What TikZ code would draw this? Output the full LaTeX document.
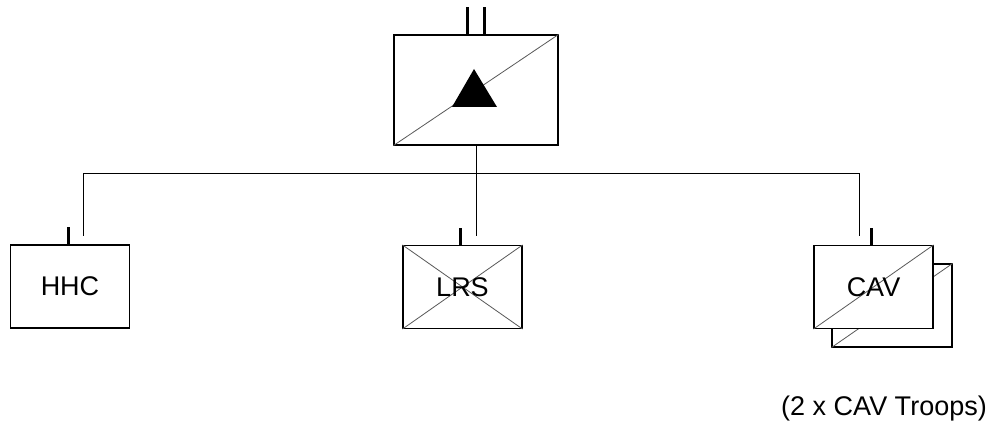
\documentclass[tikz,border=0pt]{standalone}
\usepackage{fontspec}
\setmainfont{Liberation Sans}
\begin{document}
\begin{tikzpicture}[x=1pt, y=1pt,
        unit/.style={draw, line width=1.1pt, fill=white, rectangle, minimum width=119pt, minimum height=83pt, inner sep=0pt, font=\fontsize{27}{32}\selectfont},
        slash/.style={gray!70!black, line width=.8pt},
        bar/.style={line width=3pt},
        link/.style={line width=1pt}]
                \useasboundingbox (0, 0) rectangle (993, 426);

                % squadron hq
                \node[unit, minimum width=164pt, minimum height=110pt] (sqn) at (476, 336) {};
                \draw[slash] (sqn.south west) -- (sqn.north east);
                \fill (sqn.center) ++(-2, 21) -- ++(-22, -38) -- ++(45, 0) -- cycle;
                \draw[bar] ([xshift=-9pt]sqn.north) -- ++(0, 27);
                \draw[bar] ([xshift=8pt]sqn.north) -- ++(0, 27);

                % troops
                \node[unit] (hhc) at (70, 139.5) {HHC};
                \node[unit] (lrs) at (462.5, 139) {};
                \draw[slash] (lrs.south west) -- (lrs.north east);
                \draw[slash] (lrs.north west) -- (lrs.south east);
                \node[font=\fontsize{27}{32}\selectfont] (lrstext) at (lrs.center) {LRS};
                \node[unit, minimum width=120pt] (cavb) at (892, 120.5) {};
                \draw[slash] (cavb.south west) -- (cavb.north east);
                \node[unit] (cav) at (873.5, 139) {};
                \draw[slash] (cav.south west) -- (cav.north east);
                \node[font=\fontsize{27}{32}\selectfont] (cavtext) at (cav.center) {CAV};
                \draw[bar] ([xshift=-2pt]hhc.north) -- ++(0, 17);
                \draw[bar] ([xshift=-2pt]lrs.north) -- ++(0, 17);
                \draw[bar] ([xshift=-2pt]cav.north) -- ++(0, 17);

                % wiring
                \coordinate (left) at (83, 252);
                \coordinate (right) at (859, 252);
                \draw[link] (sqn.south) -- (sqn.south |- 0, 190);
                \draw[link] (left |- 0, 190) -- (left) -- (right) -- (right |- 0, 190);

                \node[font=\fontsize{27}{32}\selectfont] (note) at (884, 17) {(2 x CAV Troops)};
            \end{tikzpicture}
\end{document}
